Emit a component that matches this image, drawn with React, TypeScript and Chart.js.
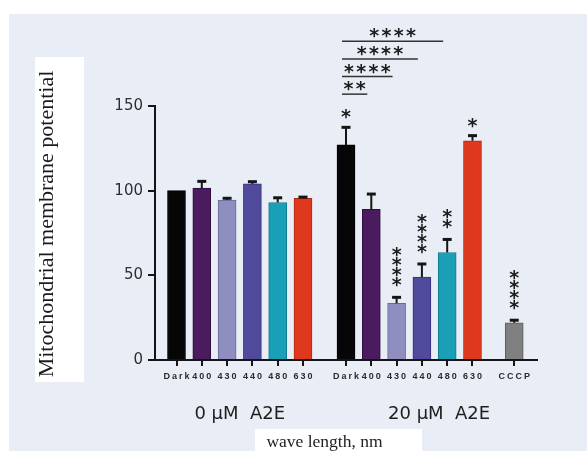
import React, { useEffect, useRef } from 'react';
import { Chart, registerables } from 'chart.js';

Chart.register(...registerables);

// ---- data ----
const WAVELENGTHS = ['Dark', '400', '430', '440', '480', '630'];
const CONTROL_LABEL = 'CCCP';

const A2E_0_MEAN = [100, 101.5, 94.5, 104, 93, 95.5];
const A2E_0_SEM = [0, 4, 1, 1.3, 2.8, 0.7];

const A2E_20_MEAN = [127, 89, 33.5, 49, 63.5, 129.5];
const A2E_20_SEM = [10.4, 9, 3.5, 7.7, 7.7, 3];
const A2E_20_STARS = ['*', '', '****', '****', '**', '*'];

const CCCP_MEAN = 22;
const CCCP_SEM = 1.5;
const CCCP_STARS = '****';

// comparisons against 20 µM Dark
const BRACKET_TARGETS = ['400', '430', '440', '480'];
const BRACKET_STARS = ['**', '****', '****', '****'];

const Y_TICKS = [0, 50, 100, 150];
const GROUP_LABELS = ['0 \u03BCM  A2E', '20 \u03BCM  A2E'];
const Y_TITLE = 'Mitochondrial membrane potential';
const X_TITLE = 'wave length, nm';

// ---- styling / layout ----
const BAR_COLORS = ['#060606', '#4a1b5e', '#8e8fc0', '#4f4a9c', '#1aa0b6', '#e0381c'];
const BAR_EDGES = ['#000000', '#2e0f3d', '#6a6a98', '#34307a', '#0d7b8c', '#b3260f'];
const CCCP_COLOR = '#808080';
const CCCP_EDGE = '#5c5c5c';

const SECOND_GROUP_START = 6.7;
const CONTROL_POS = 13.35;
const X_MIN = -0.85;
const X_MAX = 14.25;
const GROUP_LABEL_POS = [2.5, 10.38];
const BRACKET_BASE = 157;
const BRACKET_STEP = 10.4;
const INK = '#151515';

type Bar = { x: number; y: number; sem: number; stars: string; color: string; edge: string; label: string };

const bars: Bar[] = [
  ...WAVELENGTHS.map((w, i) => ({
    x: i, y: A2E_0_MEAN[i], sem: A2E_0_SEM[i], stars: '', color: BAR_COLORS[i], edge: BAR_EDGES[i], label: w,
  })),
  ...WAVELENGTHS.map((w, i) => ({
    x: SECOND_GROUP_START + i, y: A2E_20_MEAN[i], sem: A2E_20_SEM[i], stars: A2E_20_STARS[i],
    color: BAR_COLORS[i], edge: BAR_EDGES[i], label: w,
  })),
  { x: CONTROL_POS, y: CCCP_MEAN, sem: CCCP_SEM, stars: CCCP_STARS, color: CCCP_COLOR, edge: CCCP_EDGE, label: CONTROL_LABEL },
];

function drawStar(ctx: CanvasRenderingContext2D, cx: number, cy: number) {
  ctx.save();
  ctx.font = 'bold 19px "DejaVu Sans"';
  ctx.textAlign = 'center';
  ctx.textBaseline = 'alphabetic';
  const m = ctx.measureText('*');
  const base = cy + (m.actualBoundingBoxAscent - m.actualBoundingBoxDescent) / 2;
  ctx.fillStyle = '#1c1c1c';
  ctx.fillText('*', cx, base);
  ctx.restore();
}

const decorations = {
  id: 'decorations',
  beforeDraw(chart: any) {
    const { ctx, width, height } = chart;
    ctx.save();
    ctx.fillStyle = '#ffffff';
    ctx.fillRect(0, 0, width, height);
    ctx.fillStyle = '#e9eef6';
    ctx.fillRect(9, 14, width - 9, height - 14);
    ctx.fillStyle = '#ffffff';
    ctx.fillRect(35, 57, 49, 325);
    ctx.fillRect(255, 429, 167, 22);
    ctx.restore();
  },
  afterDatasetsDraw(chart: any) {
    const { ctx } = chart;
    const xs = chart.scales.x;
    const ys = chart.scales.y;
    ctx.save();
    ctx.strokeStyle = INK;
    bars.forEach((b) => {
      const cx = xs.getPixelForValue(b.x);
      const top = ys.getPixelForValue(b.y);
      const cap = ys.getPixelForValue(b.y + b.sem);
      if (b.sem > 0) {
        ctx.lineWidth = 2;
        ctx.beginPath();
        ctx.moveTo(cx, top);
        ctx.lineTo(cx, cap);
        ctx.stroke();
        ctx.lineWidth = 3;
        ctx.beginPath();
        ctx.moveTo(cx - 4.5, cap);
        ctx.lineTo(cx + 4.5, cap);
        ctx.stroke();
      }
      const n = b.stars.length;
      const first = n > 1 ? 15 : 13;
      for (let k = 0; k < n; k++) drawStar(ctx, cx, cap - first - k * 10);
    });

    // significance brackets from 20 µM Dark
    const fromX = xs.getPixelForValue(SECOND_GROUP_START) - 4;
    BRACKET_TARGETS.forEach((t, i) => {
      const toX = xs.getPixelForValue(SECOND_GROUP_START + WAVELENGTHS.indexOf(t)) - 4;
      const y = ys.getPixelForValue(BRACKET_BASE + i * BRACKET_STEP);
      ctx.strokeStyle = '#333333';
      ctx.lineWidth = 1.5;
      ctx.beginPath();
      ctx.moveTo(fromX, y);
      ctx.lineTo(toX, y);
      ctx.stroke();
      const s = BRACKET_STARS[i];
      const mid = (fromX + toX) / 2;
      for (let k = 0; k < s.length; k++) drawStar(ctx, mid + (k - (s.length - 1) / 2) * 12.2, y - 8);
    });
    ctx.restore();
  },
  afterDraw(chart: any) {
    const { ctx } = chart;
    const xs = chart.scales.x;
    const bottom = chart.chartArea.bottom;
    ctx.save();

    // category labels under the axis
    ctx.font = 'bold 9px "Liberation Sans"';
    ctx.fillStyle = '#2a2a2a';
    ctx.textAlign = 'center';
    ctx.textBaseline = 'middle';
    (ctx as any).letterSpacing = '2px';
    bars.forEach((b) => {
      ctx.fillText(b.label, xs.getPixelForValue(b.x) + 1, bottom + 17);
    });
    (ctx as any).letterSpacing = '0px';

    // group labels
    ctx.font = '18px "DejaVu Sans"';
    ctx.fillStyle = '#1e1e1e';
    ctx.textBaseline = 'alphabetic';
    GROUP_LABELS.forEach((g, i) => {
      ctx.fillText(g, xs.getPixelForValue(GROUP_LABEL_POS[i]), bottom + 58.5);
    });

    // axis titles
    ctx.font = '17.5px "Liberation Serif"';
    ctx.fillStyle = '#222222';
    ctx.fillText(X_TITLE, 324.5, 446.5);

    ctx.translate(53, 224);
    ctx.rotate(-Math.PI / 2);
    ctx.font = '22px "Liberation Serif"';
    ctx.fillStyle = '#1a1a1a';
    ctx.fillText(Y_TITLE, 0, 0);
    ctx.restore();
  },
};

export default function App() {
  const ref = useRef<HTMLCanvasElement>(null);

  useEffect(() => {
    const chart = new Chart(ref.current as HTMLCanvasElement, {
      type: 'bar',
      data: {
        datasets: [
          {
            data: bars.map((b) => ({ x: b.x, y: b.y })),
            backgroundColor: bars.map((b) => b.color),
            borderColor: bars.map((b) => b.edge),
            borderWidth: 1,
            barThickness: 18,
          },
        ],
      },
      options: {
        responsive: false,
        animation: false,
        devicePixelRatio: 1,
        layout: { padding: { left: 0, top: 106, right: 50, bottom: 0 } },
        plugins: { legend: { display: false }, tooltip: { enabled: false } },
        scales: {
          x: {
            type: 'linear',
            min: X_MIN,
            max: X_MAX,
            offset: false,
            grid: { offset: false, drawOnChartArea: false, drawTicks: true, tickLength: 6, lineWidth: 2, color: INK },
            border: { display: true, width: 2, color: INK },
            ticks: {
              color: 'rgba(0,0,0,0)',
              autoSkip: false,
              maxRotation: 0,
              font: { size: 8 },
              callback: (_v: any, i: number) => bars[i] ? bars[i].label : '',
            },
            afterBuildTicks: (s: any) => {
              s.ticks = bars.map((b) => ({ value: b.x }));
            },
            afterFit: (s: any) => {
              s.height = 91;
            },
          },
          y: {
            type: 'linear',
            min: 0,
            max: 150,
            grid: { drawOnChartArea: false, drawTicks: true, tickLength: 7, lineWidth: 2, color: INK },
            border: { display: true, width: 2, color: INK },
            ticks: {
              color: '#2e2e2e',
              padding: 5,
              font: { family: 'DejaVu Sans', size: 15 },
            },
            afterBuildTicks: (s: any) => {
              s.ticks = Y_TICKS.map((v) => ({ value: v }));
            },
            afterFit: (s: any) => {
              s.width = 155;
            },
          },
        },
      } as any,
      plugins: [decorations],
    });
    return () => chart.destroy();
  }, []);

  return (
    <div style={{ position: 'fixed', left: 0, top: 0, width: 587, height: 451 }}>
      <canvas ref={ref} width={587} height={451} style={{ display: 'block', width: 587, height: 451 }} />
    </div>
  );
}
